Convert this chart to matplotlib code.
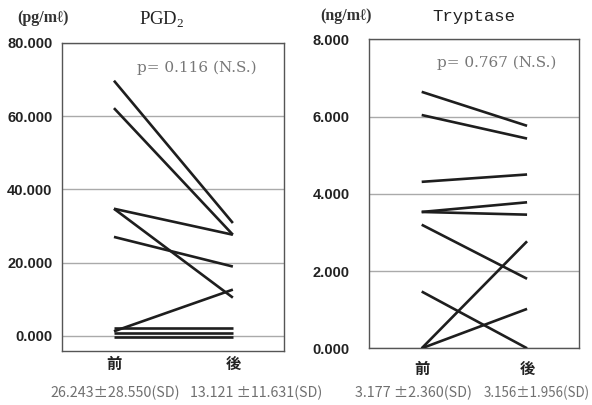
"""
PGD2 and tryptase before/after paired plots
"""

import matplotlib
matplotlib.use('Agg')
import matplotlib.pyplot as plt

# data: each subject is one line from 前 to 後
groups = ['前', '後']

pgd2_before = [69.7, 62.2, 34.7, 34.7, 27.0, 1.2, 2.0, 0.7, -0.4]
pgd2_after = [30.8, 27.6, 27.6, 10.4, 18.9, 12.6, 2.0, 0.7, -0.4]
pgd2_ticks = [0, 20, 40, 60, 80]

tryp_before = [6.64, 6.04, 4.31, 3.53, 3.53, 3.20, 0.0, 0.0, 1.47]
tryp_after = [5.76, 5.43, 4.50, 3.78, 3.46, 1.80, 2.77, 1.02, 0.0]
tryp_ticks = [0, 2, 4, 6, 8]

pgd2_stats = ['26.243\u00b128.550(SD)', '13.121 \u00b111.631(SD)']
tryp_stats = ['3.177 \u00b12.360(SD)', '3.156\u00b11.956(SD)']

W, H = 592, 405
fig = plt.figure(figsize=(W / 100, H / 100), dpi=100)


def px(x, y):
    return x / W, 1 - y / H


def draw_panel(rect, before, after, ticks, ylim, xlim, pad):
    ax = fig.add_axes(rect)
    for b, a in zip(before, after):
        ax.plot([0, 1], [b, a], color='#1e1e1e', linewidth=1.9,
                solid_capstyle='butt', zorder=3)
    ax.set_xlim(*xlim)
    ax.set_ylim(*ylim)
    ax.set_yticks(ticks)
    ax.set_yticklabels([f'{t:.3f}' for t in ticks], fontweight='bold',
                       fontsize=10.5, family='Liberation Sans', color='#222')
    ax.set_xticks([])
    ax.tick_params(axis='y', length=0, pad=pad)
    for t in ticks:
        ax.axhline(t, color='#aaaaaa', linewidth=1.0, zorder=1)
    for s in ax.spines.values():
        s.set_color('#555555')
        s.set_linewidth(1.0)
    return ax


ax1 = draw_panel([62 / W, (H - 350.7) / H, 222 / W, 307.7 / H],
                 pgd2_before, pgd2_after, pgd2_ticks,
                 (-4.1, 80), (-0.437, 1.43), 7)
ax2 = draw_panel([369 / W, (H - 348.3) / H, 209.7 / W, 309 / H],
                 tryp_before, tryp_after, tryp_ticks,
                 (0, 8), (-0.5, 1.49), 14)

# group labels under each panel
cjk = ['Noto Sans CJK JP', 'DejaVu Sans']
for ax, y in [(ax1, 364), (ax2, 369)]:
    for i, g in enumerate(groups):
        xf = ax.transData.transform((i, 0))[0] / W
        fig.text(xf, 1 - y / H, g, ha='center', va='center', fontsize=11,
                 fontweight='bold', family=cjk, color='#222')

# titles and units
serif = ['Liberation Serif', 'DejaVu Serif']
fig.text(*px(43, 18), '(pg/m\u2113)', ha='center', va='center', fontsize=11.5,
         family=serif, fontweight='bold', color='#333')
fig.text(*px(162, 20), r'PGD$_\mathregular{2}$', ha='center', va='center',
         fontsize=13.5, family=serif, color='#222')
fig.text(*px(346, 16), '(ng/m\u2113)', ha='center', va='center', fontsize=11.5,
         family=serif, fontweight='bold', color='#333')
fig.text(*px(474, 17), 'Tryptase', ha='center', va='center', fontsize=12.5,
         family=['Liberation Mono', 'DejaVu Sans Mono'], color='#222')

# p-values
pserif = ['DejaVu Serif']
fig.text(*px(197, 68), 'p= 0.116 (N.S.)', ha='center', va='center',
         fontsize=11, family=pserif, color='#777777')
fig.text(*px(497, 63), 'p= 0.767 (N.S.)', ha='center', va='center',
         fontsize=11, family=pserif, color='#777777')

# mean +/- SD under the groups
for x, s, fs in [(50, pgd2_stats[0], 10.3), (190, pgd2_stats[1], 10.3),
                 (355, tryp_stats[0], 10.3), (484, tryp_stats[1], 9.6)]:
    fig.text(*px(x, 393), s, ha='left', va='center', fontsize=fs,
             family=cjk, color='#707070')

fig.savefig('out.png', dpi=100)
